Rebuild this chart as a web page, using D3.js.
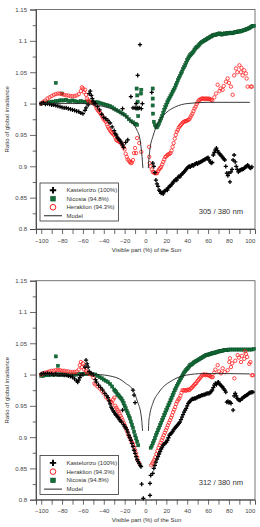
<!DOCTYPE html>
<html><head><meta charset="utf-8">
<script src="https://cdn.jsdelivr.net/npm/d3@7"></script>
<style>html,body{margin:0;padding:0;background:#fff;}svg{display:block;font-family:"Liberation Sans",Arial,sans-serif;}</style>
</head><body>
<script>
// ---------- DATA (visible part %, ratio) ----------
const xTicks = [-100,-80,-60,-40,-20,0,20,40,60,80,100];
const yTicks = [0.8,0.85,0.9,0.95,1,1.05,1.1,1.15];
const yTickLabels = ["0.8","0.85","0.9","0.95","1","1.05","1.1","1.15"];
const panelLabels = ["305 / 380 nm","312 / 380 nm"];
const legend1 = ["Kastelorizo (100%)","Nicosia (94.8%)","Heraklion (94.3%)","Model"];
const legend2 = ["Kastelorizo (100%)","Heraklion (94.3%)","Nicosia (94.8%)","Model"];

// Panel 1: 305/380 nm
const kast305 = [[-100,1.0],[-98,1.001],[-96,0.999],[-94,1.0],[-92,0.999],[-90,0.998],[-88,0.998],[-86,0.997],[-84,0.996],[-82,0.995],[-80,0.994],[-78,0.993],[-76,0.993],[-74,0.992],[-72,0.991],[-70,0.99],[-68,0.989],[-66,0.988],[-64,0.987],[-62,0.985],[-60,0.984],[-58,0.989],[-57,0.993],[-55,0.998],[-54,1.016],[-53,1.02],[-52,1.013],[-51,1.008],[-50,1.003],[-49,1.0],[-48,1.0],[-46,0.995],[-44,0.99],[-42,0.983],[-40,0.978],[-38,0.976],[-36,0.973],[-34,0.969],[-32,0.963],[-30,0.957],[-29,0.952],[-28,0.95],[-27,0.946],[-26,0.944],[-25,0.942],[-24,0.94],[-23,0.937],[-22,0.934],[-21,0.93],[-19,0.938],[-17,0.942],[-22,0.992],[-14,1.011],[-12,0.993],[-10,0.993],[-9,1.0],[-8,0.993],[-7.5,1.045],[-5.3,1.094],[-6,0.993],[-4,0.992],[-3,1.0],[6,1.018],[7,0.905],[8,0.9],[9,0.89],[10,0.878],[11,0.872],[12,0.868],[13,0.862],[14,0.86],[15,0.857],[16,0.858],[17,0.856],[18,0.86],[19,0.861],[20,0.863],[21,0.862],[22,0.866],[23,0.868],[24,0.869],[25,0.871],[26,0.873],[27,0.876],[28,0.877],[29,0.879],[30,0.878],[31,0.882],[32,0.884],[33,0.883],[34,0.886],[35,0.888],[36,0.889],[37,0.891],[38,0.893],[39,0.895],[40,0.897],[41,0.899],[42,0.9],[43,0.899],[44,0.901],[45,0.902],[46,0.901],[47,0.903],[48,0.904],[49,0.905],[50,0.904],[51,0.906],[52,0.906],[53,0.907],[54,0.908],[55,0.909],[56,0.91],[57,0.911],[58,0.912],[59,0.913],[60,0.914],[61,0.91],[62,0.907],[63,0.905],[64,0.906],[65,0.918],[66,0.922],[67,0.926],[68,0.929],[69,0.925],[70,0.922],[71,0.92],[72,0.918],[73,0.916],[74,0.914],[75,0.912],[76,0.91],[77,0.9],[78,0.889],[79,0.885],[80,0.889],[81,0.875],[82,0.891],[83,0.895],[84,0.91],[85,0.918],[86,0.907],[87,0.9],[88,0.895],[89,0.891],[90,0.893],[91,0.894],[92,0.895],[93,0.895],[94,0.896],[95,0.898],[96,0.899],[97,0.9],[98,0.902],[99,0.9],[100,0.898],[101,0.897],[102,0.899]];
const nico305 = [[-100,1.0],[-98,1.001],[-96,1.001],[-94,1.002],[-92,1.002],[-90,1.003],[-88,1.003],[-86,1.004],[-84,1.004],[-82,1.005],[-80,1.005],[-78,1.005],[-76,1.006],[-74,1.004],[-72,1.004],[-70,1.005],[-68,1.004],[-66,1.003],[-64,1.003],[-62,1.004],[-60,1.003],[-58,1.003],[-56,1.002],[-54,1.003],[-52,1.003],[-50,1.002],[-48,1.002],[-46,1.002],[-44,1.001],[-42,1.0],[-40,0.999],[-38,0.998],[-36,0.997],[-34,0.996],[-32,0.994],[-30,0.992],[-28,0.99],[-26,0.988],[-24,0.986],[-22,0.984],[-20,0.982],[-18,0.979],[-16,0.975],[-14,0.972],[-12,0.97],[-10,0.968],[-9,0.967],[-8,0.966],[-86,1.033],[-80,1.016],[-8.5,1.024],[-7.9,1.013],[-7.5,1.003],[-7.9,0.992],[-7,0.98],[-4.3,1.016],[-4,1.022],[6.9,1.024],[6.9,1.008],[6.9,0.997],[7.2,0.984],[8,0.971],[9,0.966],[10,0.963],[11,0.962],[12,0.965],[13,0.968],[14,0.972],[15,0.976],[16,0.98],[17,0.985],[18,0.99],[19,0.994],[20,0.998],[21,1.002],[22,1.006],[23,1.009],[24,1.012],[25,1.015],[26,1.019],[27,1.022],[28,1.025],[29,1.029],[30,1.033],[31,1.037],[32,1.041],[33,1.044],[34,1.048],[35,1.051],[36,1.055],[37,1.058],[38,1.061],[39,1.065],[40,1.069],[41,1.072],[42,1.075],[43,1.077],[44,1.079],[45,1.081],[46,1.083],[47,1.086],[48,1.088],[49,1.09],[50,1.091],[51,1.093],[52,1.095],[53,1.097],[54,1.098],[55,1.099],[56,1.1],[57,1.101],[58,1.102],[59,1.103],[60,1.104],[61,1.105],[62,1.106],[63,1.107],[64,1.108],[65,1.109],[66,1.109],[67,1.11],[68,1.11],[69,1.111],[70,1.111],[71,1.112],[72,1.111],[73,1.11],[74,1.111],[75,1.111],[76,1.112],[77,1.111],[78,1.112],[79,1.112],[80,1.112],[81,1.113],[82,1.113],[83,1.112],[84,1.113],[85,1.113],[86,1.114],[87,1.114],[88,1.114],[89,1.115],[90,1.115],[91,1.115],[92,1.116],[93,1.116],[94,1.117],[95,1.117],[96,1.118],[97,1.119],[98,1.119],[99,1.12],[100,1.121],[101,1.122],[102,1.123],[103,1.124],[104,1.124]];
const hera305 = [[-100,1.0],[-98,1.003],[-96,1.005],[-94,1.008],[-92,1.01],[-90,1.012],[-88,1.014],[-86,1.015],[-84,1.016],[-82,1.016],[-80,1.015],[-78,1.014],[-76,1.013],[-74,1.013],[-72,1.012],[-70,1.012],[-68,1.012],[-66,1.013],[-64,1.015],[-62,1.02],[-61,1.026],[-60,1.024],[-59,1.018],[-58,1.022],[-57,1.014],[-56,1.008],[-55,1.005],[-54,1.003],[-52,1.002],[-50,1.0],[-48,0.997],[-47,0.993],[-46,0.99],[-45,0.988],[-44,0.986],[-43,0.984],[-42,0.981],[-41,0.978],[-40,0.975],[-39,0.973],[-38,0.971],[-37,0.967],[-36,0.963],[-35,0.96],[-34,0.957],[-33,0.955],[-32,0.953],[-31,0.951],[-30,0.95],[-29,0.946],[-28,0.942],[-27,0.941],[-26,0.94],[-25,0.939],[-24,0.938],[-23,0.936],[-22,0.933],[-21,0.93],[-20,0.927],[-19,0.92],[-18,0.915],[-17,0.911],[-16,0.909],[-15,0.907],[-14,0.905],[-13,0.906],[-12,0.91],[-11,0.921],[-10,0.929],[-9,0.921],[-8,0.945],[-6,0.937],[-4,0.923],[3.5,0.931],[3.6,0.915],[4,0.905],[5,0.9],[6,0.895],[7,0.891],[8,0.89],[9,0.889],[10,0.889],[11,0.889],[12,0.892],[13,0.895],[14,0.897],[15,0.899],[16,0.903],[17,0.907],[18,0.911],[19,0.915],[20,0.916],[21,0.918],[22,0.919],[23,0.92],[24,0.921],[25,0.925],[26,0.931],[27,0.937],[28,0.944],[29,0.95],[30,0.955],[31,0.958],[32,0.962],[33,0.964],[34,0.966],[35,0.968],[36,0.97],[37,0.971],[38,0.972],[39,0.972],[40,0.973],[41,0.974],[42,0.975],[43,0.978],[44,0.981],[45,0.984],[46,0.988],[47,0.992],[48,0.995],[49,0.999],[50,1.002],[51,1.005],[52,1.006],[53,1.007],[54,1.008],[55,1.008],[56,1.008],[57,1.007],[58,1.008],[59,1.008],[60,1.007],[61,1.008],[62,1.007],[63,1.006],[64,1.005],[66,1.01],[67.6,1.016],[69.2,1.03],[71,1.02],[72,1.024],[74,1.022],[75,1.028],[77.2,1.035],[78.8,1.04],[80,1.033],[82,1.027],[83.6,1.014],[85,1.045],[86.8,1.056],[88,1.05],[90,1.061],[91.5,1.05],[92,1.057],[93.2,1.045],[94.7,1.053],[96.3,1.048],[97,1.04],[97.9,1.027],[101,1.027],[102,1.027]];
const model305L = [[-100,1.0],[-60,1.0],[-45,0.997],[-35,0.993],[-28,0.989],[-20,0.981],[-12,0.968],[-8,0.957],[-5.5,0.945],[-4.3,0.931],[-3.3,0.915],[-2.5,0.897]];
const model305R = [[2.7,0.897],[3.2,0.91],[4.5,0.93],[7,0.947],[11.7,0.968],[19.6,0.985],[29,0.995],[40,1.0],[60,1.002],[100,1.002]];

// Panel 2: 312/380 nm
const kast312 = [[-100,1.001],[-98,1.002],[-96,1.001],[-94,1.002],[-92,1.001],[-90,1.001],[-88,1.0],[-86,1.001],[-84,1.0],[-82,1.0],[-80,1.0],[-78,0.999],[-76,0.999],[-74,0.998],[-72,0.997],[-70,0.996],[-68,0.993],[-66,0.99],[-65,0.988],[-64,0.991],[-63,0.995],[-62,0.999],[-60,1.0],[-58,1.012],[-57,1.023],[-56,1.017],[-55,1.012],[-54,1.005],[-52,1.002],[-50,1.0],[-48,0.992],[-47,0.988],[-45,0.983],[-43,0.979],[-41,0.975],[-39,0.97],[-37,0.966],[-36,0.963],[-35,0.958],[-34,0.953],[-33,0.948],[-32,0.945],[-31,0.942],[-30,0.94],[-29,0.937],[-28,0.935],[-27,0.933],[-26,0.931],[-25,0.928],[-24,0.926],[-23,0.924],[-22,0.943],[-21,0.92],[-20,0.917],[-19,0.915],[-18,0.912],[-17,0.908],[-16,0.903],[-15,0.899],[-14,0.895],[-13,0.89],[-12,0.885],[-12,0.975],[-11,0.967],[-10,0.955],[-11,0.879],[-10,0.874],[-9,0.869],[-8,0.864],[-7,0.861],[-6,0.858],[-5,0.855],[-4.3,0.853],[-3.7,0.825],[-2.1,0.802],[4.3,0.807],[4.3,0.826],[5,0.839],[7,0.842],[8,0.85],[9,0.855],[10,0.86],[11,0.865],[12,0.869],[13,0.873],[14,0.877],[15,0.881],[16,0.884],[17,0.887],[18,0.889],[19,0.891],[20,0.892],[21,0.895],[22,0.899],[23,0.903],[24,0.905],[25,0.907],[26,0.909],[27,0.912],[28,0.914],[29,0.916],[30,0.918],[31,0.92],[32,0.922],[33,0.924],[34,0.928],[35,0.932],[36,0.936],[37,0.94],[38,0.943],[39,0.946],[40,0.95],[41,0.954],[42,0.956],[43,0.958],[44,0.96],[45,0.961],[46,0.961],[47,0.962],[48,0.962],[49,0.963],[50,0.964],[51,0.965],[52,0.965],[53,0.966],[54,0.967],[55,0.967],[56,0.968],[57,0.968],[58,0.969],[59,0.97],[60,0.97],[61,0.97],[62,0.971],[63,0.973],[64,0.975],[65,0.979],[66,0.983],[67,0.986],[68,0.984],[69,0.987],[70,0.988],[71,0.985],[72,0.983],[73,0.981],[74,0.98],[75,0.977],[76,0.975],[77,0.972],[78,0.956],[79,0.957],[80,0.955],[81,0.956],[82,0.954],[84,0.943],[85,0.966],[86,0.97],[87,0.966],[88,0.962],[89,0.96],[90,0.959],[91,0.959],[92,0.961],[93,0.962],[94,0.964],[95,0.965],[96,0.966],[97,0.967],[98,0.968],[99,0.97],[100,0.971],[101,0.971],[102,0.972],[103,0.972]];
const hera312 = [[-100,1.0],[-98,1.002],[-96,1.003],[-94,1.004],[-92,1.005],[-90,1.006],[-88,1.006],[-86,1.007],[-84,1.007],[-82,1.007],[-80,1.006],[-78,1.006],[-76,1.005],[-74,1.005],[-72,1.004],[-70,1.004],[-68,1.004],[-66,1.005],[-64,1.008],[-63,1.015],[-62,1.02],[-61,1.012],[-60,1.018],[-59,1.008],[-58,1.013],[-57,1.006],[-56,1.003],[-54,1.001],[-52,1.0],[-50,0.995],[-49,0.986],[-48,0.984],[-46,0.981],[-44,0.978],[-42,0.974],[-40,0.97],[-38,0.964],[-36,0.961],[-34,0.958],[-33,0.956],[-32,0.954],[-31,0.96],[-30,0.963],[-29,0.95],[-28,0.947],[-27,0.944],[-26,0.941],[-25,0.938],[-24,0.934],[-23,0.931],[-22,0.927],[-21,0.923],[-20,0.919],[-19,0.915],[-18,0.911],[-17,0.906],[-16,0.902],[-15,0.899],[-14,0.895],[-13,0.892],[-12,0.889],[-11,0.884],[-10,0.879],[-9,0.874],[-8,0.868],[-7.5,0.863],[-6,0.858],[5.5,0.855],[6.5,0.858],[7.5,0.861],[8.5,0.864],[9.5,0.868],[10.5,0.873],[11.5,0.878],[12.5,0.883],[13.5,0.887],[14.5,0.891],[15.5,0.895],[16.5,0.899],[17.5,0.903],[18.5,0.907],[19.5,0.911],[20.5,0.915],[21.5,0.919],[22.5,0.923],[23.5,0.927],[24.5,0.931],[25.5,0.935],[26.5,0.94],[27.5,0.944],[28.5,0.948],[29.5,0.953],[30.5,0.957],[31.5,0.96],[32.5,0.962],[33.5,0.966],[34.5,0.971],[35.5,0.975],[36.5,0.975],[37.5,0.975],[38.5,0.974],[39.5,0.975],[40.5,0.976],[41.5,0.975],[42.5,0.976],[43.5,0.978],[44.5,0.979],[45.5,0.981],[46.5,0.983],[47.5,0.985],[48.5,0.986],[49.5,0.989],[50.5,0.991],[51.5,0.993],[52.5,0.995],[53.5,0.997],[54.5,0.999],[55.5,1.0],[56.5,1.0],[57.5,0.999],[58.5,1.0],[59.5,0.999],[60.5,0.999],[61.5,0.998],[62.5,0.997],[63.5,0.996],[64.5,0.996],[66,1.003],[67,1.008],[69.2,1.015],[70.5,1.005],[72.4,1.002],[74,1.01],[76,1.004],[78.8,1.007],[80.4,1.02],[81,1.026],[82,1.012],[83,1.018],[85.2,0.994],[86,1.022],[88.4,1.031],[89.5,1.027],[91.6,1.02],[92.5,1.03],[94.7,1.025],[95.5,1.037],[96.3,1.033],[97.5,1.028],[99.5,1.017],[100.5,1.02],[102,0.999],[103,0.999]];
const nico312 = [[-100,0.998],[-98,0.998],[-96,0.999],[-94,0.999],[-92,0.999],[-90,1.0],[-88,1.0],[-86,1.0],[-84,1.0],[-82,1.0],[-80,1.0],[-78,1.0],[-76,1.0],[-74,1.0],[-72,1.0],[-70,1.0],[-68,1.0],[-66,1.0],[-64,1.001],[-62,1.001],[-60,1.001],[-58,1.001],[-56,1.001],[-54,1.001],[-52,1.001],[-50,1.0],[-48,1.0],[-46,0.998],[-44,0.996],[-42,0.994],[-40,0.992],[-38,0.99],[-36,0.988],[-34,0.985],[-32,0.981],[-30,0.976],[-29,0.974],[-28,0.972],[-27,0.969],[-26,0.967],[-25,0.965],[-24,0.963],[-23,0.961],[-22,0.958],[-21,0.954],[-20,0.95],[-19,0.946],[-18,0.942],[-17,0.938],[-16,0.934],[-15,0.93],[-14,0.925],[-13,0.92],[-12,0.915],[-11,0.909],[-10,0.903],[-9,0.898],[-8,0.893],[-7,0.887],[-86,1.029],[-84,1.014],[5,0.883],[6,0.886],[7,0.89],[8,0.894],[9,0.898],[10,0.903],[11,0.907],[12,0.911],[13,0.915],[14,0.919],[15,0.923],[16,0.927],[17,0.931],[18,0.935],[19,0.939],[20,0.943],[21,0.947],[22,0.951],[23,0.955],[24,0.959],[25,0.963],[26,0.967],[27,0.971],[28,0.975],[29,0.978],[30,0.982],[31,0.985],[32,0.988],[33,0.991],[34,0.994],[35,0.997],[36,1.0],[37,1.003],[38,1.005],[39,1.007],[40,1.009],[41,1.011],[42,1.013],[43,1.015],[44,1.016],[45,1.017],[46,1.019],[47,1.02],[48,1.021],[49,1.022],[50,1.023],[51,1.024],[52,1.025],[53,1.026],[54,1.027],[55,1.028],[56,1.029],[57,1.03],[58,1.031],[59,1.031],[60,1.032],[61,1.032],[62,1.033],[63,1.033],[64,1.034],[65,1.034],[66,1.035],[67,1.035],[68,1.036],[69,1.036],[70,1.037],[71,1.037],[72,1.038],[73,1.038],[74,1.038],[75,1.039],[76,1.039],[77,1.039],[78,1.039],[79,1.039],[80,1.04],[82,1.04],[84,1.04],[86,1.04],[88,1.04],[90,1.04],[92,1.04],[94,1.04],[96,1.04],[98,1.04],[100,1.04],[102,1.04],[104,1.041]];
const model312L = [[-100,1.0],[-60,1.0],[-47,1.0],[-32,0.997],[-25,0.993],[-19,0.986],[-12,0.975],[-7.5,0.956],[-4.5,0.938],[-3.5,0.925],[-2.8,0.91]];
const model312R = [[2.8,0.91],[3.2,0.925],[4,0.935],[7,0.954],[13,0.972],[26,0.991],[39,0.999],[55,1.0015],[80,1.0015],[100,1.001]];

// ---------- DRAWING ----------
const W = 260, H = 527;
const svg = d3.select("body").append("svg").attr("width", W).attr("height", H);
const COL = {k: "#000", h: "#ff1f1f", n: "#13703a", nStroke: "#0b4a24"};

function cross(g, s, sw) {
  return g.append("path").attr("d", `M${-s},0H${s}M0,${-s}V${s}`).attr("stroke", COL.k).attr("stroke-width", sw).attr("fill", "none");
}

const panels = [
  {top: 9.5, bottom: 229, kast: kast305, nico: nico305, hera: hera305, mL: model305L, mR: model305R, label: panelLabels[0], legend: legend1, legendOrder: ["k","n","h","m"], legY: 183, legH: 38, labelY: 214},
  {top: 280.7, bottom: 499.7, kast: kast312, nico: nico312, hera: hera312, mL: model312L, mR: model312R, label: panelLabels[1], legend: legend2, legendOrder: ["k","h","n","m"], legY: 455.5, legH: 39, labelY: 485}
];

const x = d3.scaleLinear().domain([-105, 105]).range([36, 255]);

panels.forEach(p => {
  const y = d3.scaleLinear().domain([0.8, 1.15]).range([p.bottom, p.top]);
  const g = svg.append("g");

  // frame
  g.append("rect").attr("x", x.range()[0]).attr("y", p.top).attr("width", x.range()[1] - x.range()[0]).attr("height", p.bottom - p.top)
    .attr("fill", "none").attr("stroke", "#666").attr("stroke-width", 0.9);

  // y axis
  const yAx = g.append("g").attr("transform", `translate(${x.range()[0]},0)`)
    .call(d3.axisLeft(y).tickValues(yTicks).tickFormat((d, i) => yTickLabels[i]).tickSize(6).tickPadding(3));
  g.append("g").attr("transform", `translate(${x.range()[0]},0)`)
    .call(d3.axisLeft(y).tickValues(d3.range(0.825, 1.15, 0.05)).tickFormat("").tickSize(3.3))
    .call(a => a.select(".domain").remove());
  // x axis
  g.append("g").attr("transform", `translate(0,${p.bottom})`)
    .call(d3.axisBottom(x).tickValues(xTicks).tickSize(5).tickPadding(4.5));
  g.append("g").attr("transform", `translate(0,${p.bottom})`)
    .call(d3.axisBottom(x).tickValues(d3.range(-90, 100, 20)).tickFormat("").tickSize(5))
    .call(a => a.select(".domain").remove());

  g.selectAll(".tick text").attr("font-size", 6).attr("fill", "#444").attr("font-family", '"Liberation Sans",Arial,sans-serif');
  g.selectAll(".tick line").attr("stroke", "#444").attr("stroke-width", 0.8);
  g.selectAll(".domain").attr("stroke", "#444").attr("stroke-width", 0.9);

  // axis titles
  g.append("text").attr("x", (x(-105) + x(105)) / 2 + 1).attr("y", p.bottom + 22.5).attr("text-anchor", "middle")
    .attr("font-size", 6).attr("fill", "#333").text("Visible part (%) of the Sun");
  g.append("text").attr("transform", `translate(9,${(p.top + p.bottom) / 2}) rotate(-90)`).attr("text-anchor", "middle")
    .attr("font-size", 6).attr("fill", "#333").text("Ratio of global irradiance");

  // data
  const gn = g.append("g");
  gn.selectAll("rect").data(p.nico).join("rect")
    .attr("x", d => x(d[0]) - 1.6).attr("y", d => y(d[1]) - 1.6).attr("width", 3.2).attr("height", 3.2)
    .attr("fill", COL.n).attr("stroke", COL.nStroke).attr("stroke-width", 0.4);
  const gh = g.append("g");
  gh.selectAll("circle").data(p.hera).join("circle")
    .attr("cx", d => x(d[0])).attr("cy", d => y(d[1])).attr("r", 1.7)
    .attr("fill", "none").attr("stroke", COL.h).attr("stroke-width", 0.8);
  const gk = g.append("g");
  gk.selectAll("path").data(p.kast).join("path")
    .attr("d", d => `M${x(d[0]) - 2.1},${y(d[1])}H${x(d[0]) + 2.1}M${x(d[0])},${y(d[1]) - 2.1}V${y(d[1]) + 2.1}`)
    .attr("stroke", COL.k).attr("stroke-width", 1.3).attr("fill", "none");

  // model
  const line = d3.line().x(d => x(d[0])).y(d => y(d[1])).curve(d3.curveMonotoneX);
  [p.mL, p.mR].forEach(m => g.append("path").attr("d", line(m)).attr("fill", "none").attr("stroke", "#222").attr("stroke-width", 0.9));

  // label
  g.append("text").attr("x", 243).attr("y", p.labelY).attr("text-anchor", "end").attr("font-size", 7.6).attr("fill", "#333").text(p.label);

  // legend
  const lg = g.append("g").attr("transform", `translate(40,${p.legY})`);
  lg.append("rect").attr("width", 78.5).attr("height", p.legH).attr("fill", "#fff").attr("stroke", "#333").attr("stroke-width", 0.8);
  const rowH = (p.legH - 4) / 4;
  p.legendOrder.forEach((k, i) => {
    const cy = 2.5 + rowH * (i + 0.5) + 0.5;
    const it = lg.append("g").attr("transform", `translate(13,${cy})`);
    if (k === "k") cross(it, 3.2, 1.9);
    if (k === "n") it.append("rect").attr("x", -2.3).attr("y", -2.3).attr("width", 4.6).attr("height", 4.6).attr("fill", COL.n).attr("stroke", COL.nStroke).attr("stroke-width", 0.6);
    if (k === "h") it.append("circle").attr("r", 2.8).attr("fill", "none").attr("stroke", COL.h).attr("stroke-width", 1);
    if (k === "m") it.append("line").attr("x1", -9).attr("x2", 9).attr("stroke", "#222").attr("stroke-width", 1);
    lg.append("text").attr("x", 26.5).attr("y", cy + 2.1).attr("font-size", 6).attr("fill", "#333").text(p.legend[i]);
  });
});
</script>
</body></html>
